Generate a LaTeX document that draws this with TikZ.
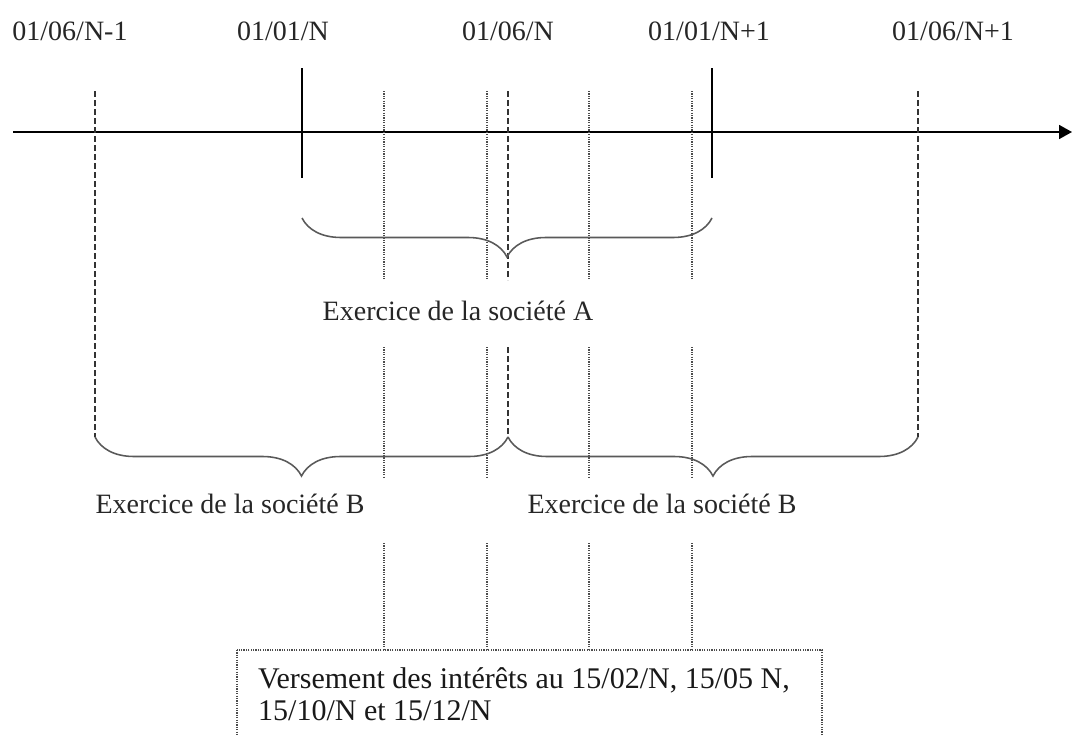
\documentclass[tikz,border=0pt]{standalone}
\usepackage{fontspec}
\setmainfont{Liberation Serif}
\usetikzlibrary{arrows.meta,decorations.pathreplacing}
\tikzset{
	datelabel/.style={anchor=base, inner sep=0pt, font=\fontsize{28}{32}\selectfont, color=black!85},
	paytext/.style={anchor=base west, inner sep=0pt, font=\fontsize{30}{34}\selectfont, color=black!90},
	dateline/.style={line width=0.6mm, color=black!80, dash pattern=on 6pt off 3pt},
	payline/.style={line width=0.45mm, color=black!70, dash pattern=on 1.2pt off 1.2pt},
	exbrace/.style={line width=0.55mm, color=black!65, decorate, decoration={brace, mirror, amplitude=39pt}}
}
\begin{document}
\begin{tikzpicture}[x=1pt, y=-1pt]
		%%%%% START %%%%%
		\useasboundingbox (0, 0) rectangle (1074, 736);
		\clip (0, 0) rectangle (1074, 736);
		
		\draw[line width=0.6mm, -{Triangle[length=13pt, width=14pt]}] (13, 132) -- (1072, 132);
		
		\draw[line width=0.5mm] (302, 68) -- (302, 178);
		\draw[line width=0.5mm] (712, 68) -- (712, 178);
		
		\node[datelabel] (dB0) at (70, 40) {01/06/N-1};
		\node[datelabel] (dA0) at (283, 40) {01/01/N};
		\node[datelabel] (dB1) at (508, 40) {01/06/N};
		\node[datelabel] (dA1) at (709, 40) {01/01/N+1};
		\node[datelabel] (dB2) at (953, 40) {01/06/N+1};
		
		\draw[dateline] (95, 91) -- (95, 437);
		\draw[dateline] (918, 91) -- (918, 437);
		\draw[dateline] (508, 91) -- (508, 280);
		\draw[dateline] (508, 347) -- (508, 437);
		
		\foreach \x in {384, 487, 589, 692} {
			\draw[payline] (\x, 91) -- (\x, 280);
			\draw[payline] (\x, 347) -- (\x, 477);
			\draw[payline] (\x, 543) -- (\x, 650);
		}
		
		\draw[exbrace] (302, 218) -- (712, 218);
		\node[datelabel] (exA) at (458, 320) {Exercice de la société A};
		
		\draw[exbrace] (95, 437) -- (508, 437);
		\draw[exbrace] (508, 437) -- (918, 437);
		\node[datelabel] (exB0) at (230, 513) {Exercice de la société B};
		\node[datelabel] (exB1) at (662, 513) {Exercice de la société B};
		
		\draw[payline] (237, 650) rectangle (822, 760);
		\node[paytext] (pay1) at (258, 688) {Versement des intérêts au 15/02/N, 15/05 N,};
		\node[paytext] (pay2) at (258, 720) {15/10/N et 15/12/N};
		%%%%% END %%%%%
	\end{tikzpicture}
\end{document}
